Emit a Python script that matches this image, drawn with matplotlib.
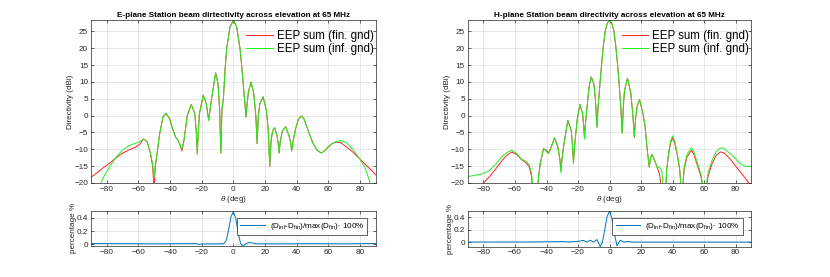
import matplotlib

matplotlib.use("Agg")
import matplotlib.pyplot as plt

plt.rcParams["font.family"] = ["Liberation Sans", "DejaVu Sans"]
plt.rcParams["mathtext.fontset"] = "custom"
plt.rcParams["mathtext.rm"] = "Liberation Sans"
plt.rcParams["mathtext.it"] = "Liberation Sans:italic"

# ---- E-plane directivity (dBi) ----
theta_e = [-90, -86, -82, -78, -74, -70, -66, -62, -59, -56.7, -54.5, -52.5, -51, -50.2,
           -49.4, -48.3, -46.6, -44.5, -42.6, -40.3, -38.2, -36.5, -35, -33.9, -32.5,
           -31.2, -29.1, -26.6, -24.4, -23.4, -22.8, -22.2, -21.5, -19, -17.1, -15.6,
           -13.9, -11.2, -9.7, -8.7, -7.9, -7.2, -6.3, -5.2, -4.2, -2.1, 0, 2.1, 4.2,
           5.3, 6.5, 7.4, 8, 8.7, 9.5, 11.2, 12.9, 14.2, 15, 15.8, 16.7, 18.8, 20.9,
           22, 23, 23.9, 25, 26.1, 27.6, 28.3, 28.9, 29.7, 31, 33.1, 35.2, 36.2, 36.9,
           37.8, 39.4, 41, 42.8, 44.5, 46.2, 48.5, 50.4, 53, 55.6, 58, 60, 62.5, 65,
           68, 71.5, 76, 80, 83, 85, 87, 90]
fin_e = [-18.3, -16.9, -15.4, -14.0, -12.5, -11.1, -10.2, -9.4, -8.4, -6.9, -7.8, -11.0,
         -15.0, -22.0, -15.5, -11.5, -5.4, -0.4, 0.7, -0.9, -4.2, -6.4, -7.3, -8.5, -10.5,
         -7.3, 0.1, 3.3, 0.6, -5.0, -11.3, -5.0, 0.5, 6.1, 3.6, -1.4,
         4.6, 12.7, 9.5, 2.0, -11.1, 2.0, 5.0, 14.0, 20.0, 26.4, 28.3, 26.4, 20.0,
         14.5, 8.0, 3.0, -0.4, 3.5, 7.0, 10.0, 6.6, 0.0, -8.3, 0.0, 3.5, 5.6, 1.5,
         -4.0, -15.1, -7.0, -4.4, -3.6, -6.0, -8.0, -11.1, -7.5, -4.5, -3.3, -6.0, -8.0, -10.5,
         -7.5, -3.8, -1.2, -0.1, -0.8, -3.0, -6.0, -8.3, -10.3, -11.1, -10.3, -9.2, -8.3, -7.8,
         -8.1, -9.3, -11.0, -12.9, -14.3, -15.2, -16.1, -17.6]
inf_e = [-27.0, -22.6, -18.2, -15.0, -12.3, -10.2, -8.9, -8.2, -7.7, -7.0, -7.8, -11.0,
         -14.5, -18.5, -15.0, -11.5, -5.4, -0.4, 0.7, -0.9, -4.2, -6.4, -7.3, -8.3, -10.0,
         -7.3, 0.1, 3.3, 0.6, -5.0, -11.5, -5.0, 0.5, 6.1, 3.6, -1.4,
         4.6, 12.7, 9.5, 2.0, -11.1, 2.0, 5.0, 14.0, 20.0, 26.4, 28.3, 26.4, 20.0,
         14.5, 8.0, 3.0, -0.4, 3.5, 7.0, 10.0, 6.6, 0.0, -8.3, 0.0, 3.5, 5.6, 1.5,
         -4.0, -15.1, -7.0, -4.4, -3.6, -6.0, -8.0, -11.1, -7.5, -4.5, -3.3, -6.0, -8.0, -10.5,
         -7.5, -3.8, -1.2, -0.1, -0.8, -3.0, -6.0, -8.3, -10.3, -11.1, -10.3, -9.3, -8.3, -7.7,
         -7.4, -8.0, -10.3, -12.9, -15.3, -17.8, -21.0, -26.0]

# ---- H-plane directivity (dBi) ----
theta_h = [-90, -85, -80, -76, -72, -68, -65, -62, -59, -56, -53, -51, -49.5, -48.3, -46.1,
           -45, -44, -41.9, -40.2, -38.7, -37, -34.9, -32.8, -31.5, -30.9, -30.2, -29.2,
           -26.5, -24.3, -23.5, -22.9, -22.2, -20.5, -18.8, -17.1, -16.4, -15.9, -15.4,
           -14.4, -13, -11.6, -10, -9, -8, -7.2, -6, -5, -4, -2.8, -1.4, 0, 1.4, 2.8, 4,
           5, 6, 7.2, 8, 8.8, 9.5, 11.4, 13.5, 14.8, 15.7, 16.5, 17.4, 19, 21.2, 22.5,
           23.7, 25.2, 26, 26.9, 28.6, 30.1, 31.7, 33.2, 34.5, 35.3, 36.3, 37.5, 38.8, 40,
           41.3, 42.8, 44.5, 45.9, 47.3, 49.1, 51.9, 53.5, 55.4, 58, 60.3, 62.5, 65, 67.5,
           70.3, 72.5, 76.6, 80, 83, 86, 88.3, 90]
fin_h = [-22.0, -21.0, -20.0, -18.0, -15.7, -13.2, -11.7, -10.8, -11.5, -13.0, -14.0, -15.2,
         -18.0, -25.0, -25.0, -18.0, -14.3, -9.8, -10.3, -11.0, -9.3, -6.6, -9.3, -13.0,
         -16.3, -13.0, -9.3, -1.4, -4.4, -9.0, -14.1, -9.0, -1.0, 3.3, 0.6, -3.0, -6.9, -3.0,
         2.0, 8.5, 11.5, 9.5, 5.0, -3.4, 3.0, 10.0, 15.5, 20.5, 25.0, 27.5, 28.3, 27.5, 25.0,
         20.5, 15.5, 10.0, 2.0, -5.2, 3.0, 7.5, 11.1, 6.6, 0.0, -6.4, -1.0, 2.6, 4.8, 0.6,
         -3.0, -9.3, -15.3, -12.5, -11.5, -13.3, -15.3, -17.3, -23.0, -28.0, -25.0, -16.0,
         -11.3, -8.0, -6.6, -8.0, -11.3, -16.0, -25.0, -16.0, -12.3, -10.3, -11.5, -14.3,
         -18.0, -25.0, -18.0, -14.3, -11.9, -10.8, -11.0, -12.9, -15.0, -16.8, -18.5, -20.0,
         -21.0]
inf_h = [-18.1, -17.7, -17.2, -16.2, -14.3, -12.0, -10.9, -10.3, -11.2, -12.9, -13.6, -14.6,
         -17.0, -24.0, -24.0, -18.0, -14.3, -9.8, -10.6, -11.3, -9.4, -6.6, -9.3, -13.0,
         -17.0, -13.0, -9.3, -1.4, -4.4, -9.0, -14.3, -9.0, -1.0, 3.3, 0.6, -3.0, -6.9, -3.0,
         2.0, 8.5, 11.5, 9.5, 5.0, -3.4, 3.0, 10.0, 15.5, 20.5, 25.0, 27.5, 28.3, 27.5, 25.0,
         20.5, 15.5, 10.0, 2.0, -5.2, 3.0, 7.5, 11.1, 6.6, 0.0, -6.4, -1.0, 2.6, 4.8, 0.6,
         -3.0, -9.3, -15.3, -12.5, -11.5, -13.3, -15.3, -15.3, -16.5, -24.0, -25.0, -16.0,
         -10.8, -7.5, -6.0, -7.5, -10.8, -16.0, -25.0, -15.5, -11.5, -9.5, -10.8, -13.5,
         -17.5, -24.0, -17.0, -13.3, -10.8, -9.6, -9.7, -11.3, -12.8, -14.3, -15.0, -15.1,
         -15.2]

# ---- relative difference (%) ----
theta_de = [-90, -70, -50, -30, -24, -22, -20, -10, -6, -4.5, -3, -1.5, 0, 1.5, 3, 4.5,
            5.5, 7, 8, 10, 12, 15, 30, 50, 70, 90]
diff_e = [0.012, 0.01, 0.008, 0.01, 0.012, 0.0, 0.006, 0.008, 0.01, 0.06, 0.22, 0.42, 0.49,
          0.40, 0.18, 0.02, -0.015, -0.01, 0.01, 0.03, 0.02, 0.008, 0.008, 0.01, 0.008, 0.012]
theta_dh = [-90, -50, -40, -30, -25, -20, -16.5, -14.4, -12.3, -10.2, -8, -5.9, -4.5, -3.4,
            -1.5, 0, 1.5, 2.6, 4.7, 6.8, 8.9, 11, 15, 20, 40, 90]
diff_h = [0.0, 0.002, 0.005, 0.008, 0.003, 0.012, 0.027, 0.0, 0.03, 0.0, 0.04, -0.075, 0.0,
          0.15, 0.42, 0.5, 0.38, 0.2, -0.06, 0.03, 0.0, 0.01, 0.0, 0.0, 0.0, 0.0]

XTICKS = list(range(-80, 81, 20))
GRAY = "#262626"
FS = 5.9


def style(ax):
    ax.grid(True, color="#dedede", linewidth=0.5)
    ax.set_axisbelow(True)
    ax.tick_params(direction="in", length=2.5, width=0.5, labelsize=FS, colors=GRAY,
                   top=True, right=True, pad=2)
    for s in ax.spines.values():
        s.set_color(GRAY)
        s.set_linewidth(0.5)
    ax.set_xlim(-90, 90)
    ax.set_xticks(XTICKS)


def main_panel(ax, th, fin, inf, title):
    ax.plot(th, fin, color="#ff2020", linewidth=0.7, label="EEP sum (fin. gnd)")
    ax.plot(th, inf, color="#20ee20", linewidth=0.7, label="EEP sum (inf. gnd)")
    style(ax)
    ax.set_ylim(-20, 28.4)
    ax.set_yticks(range(-20, 26, 5))
    ax.set_title(title, fontsize=FS, fontweight="bold", pad=2)
    ax.set_ylabel("Directivity (dBi)", fontsize=FS, color=GRAY, labelpad=0)
    ax.set_xlabel(r"$\theta$ (deg)", fontsize=FS, color=GRAY, labelpad=1)
    ax.legend(loc="upper right", frameon=False, fontsize=8.3, handlelength=2.3,
              handletextpad=0.35, borderaxespad=0.0, borderpad=0.2, labelspacing=0.15,
              bbox_to_anchor=(1.0, 0.955))


def diff_panel(ax, th, d, ylim):
    ax.plot(th, d, color="#0072BD", linewidth=0.7,
            label=r"(D$_{\rm inf}$-D$_{\rm fin}$)/max(D$_{\rm fin}$)$\cdot$ 100%")
    style(ax)
    ax.set_ylim(*ylim)
    ax.set_yticks([0, 0.2, 0.4])
    ax.set_yticklabels(["0", "0.2", "0.4"])
    ax.set_ylabel("percentage %", fontsize=FS, color=GRAY, labelpad=0)
    leg = ax.legend(loc="upper right", fontsize=FS, fancybox=False, handlelength=3.0,
                    handletextpad=0.6, borderpad=0.4, bbox_to_anchor=(0.985, 0.93),
                    framealpha=1)
    leg.get_frame().set_edgecolor(GRAY)
    leg.get_frame().set_linewidth(0.5)


fig = plt.figure(figsize=(8.3, 2.77), dpi=100)
ax1 = fig.add_axes([0.1096, 0.3394, 0.3431, 0.5884])
ax2 = fig.add_axes([0.5635, 0.3394, 0.3418, 0.5884])
ax3 = fig.add_axes([0.1096, 0.1119, 0.3431, 0.1264])
ax4 = fig.add_axes([0.5635, 0.1094, 0.3418, 0.1289])

main_panel(ax1, theta_e, fin_e, inf_e,
           "E-plane Station beam dirtectivity across elevation at 65 MHz")
main_panel(ax2, theta_h, fin_h, inf_h,
           "H-plane Station beam directivity across elevation at 65 MHz")
diff_panel(ax3, theta_de, diff_e, (-0.025, 0.505))
diff_panel(ax4, theta_dh, diff_h, (-0.075, 0.505))

fig.savefig("out.png", dpi=100)
